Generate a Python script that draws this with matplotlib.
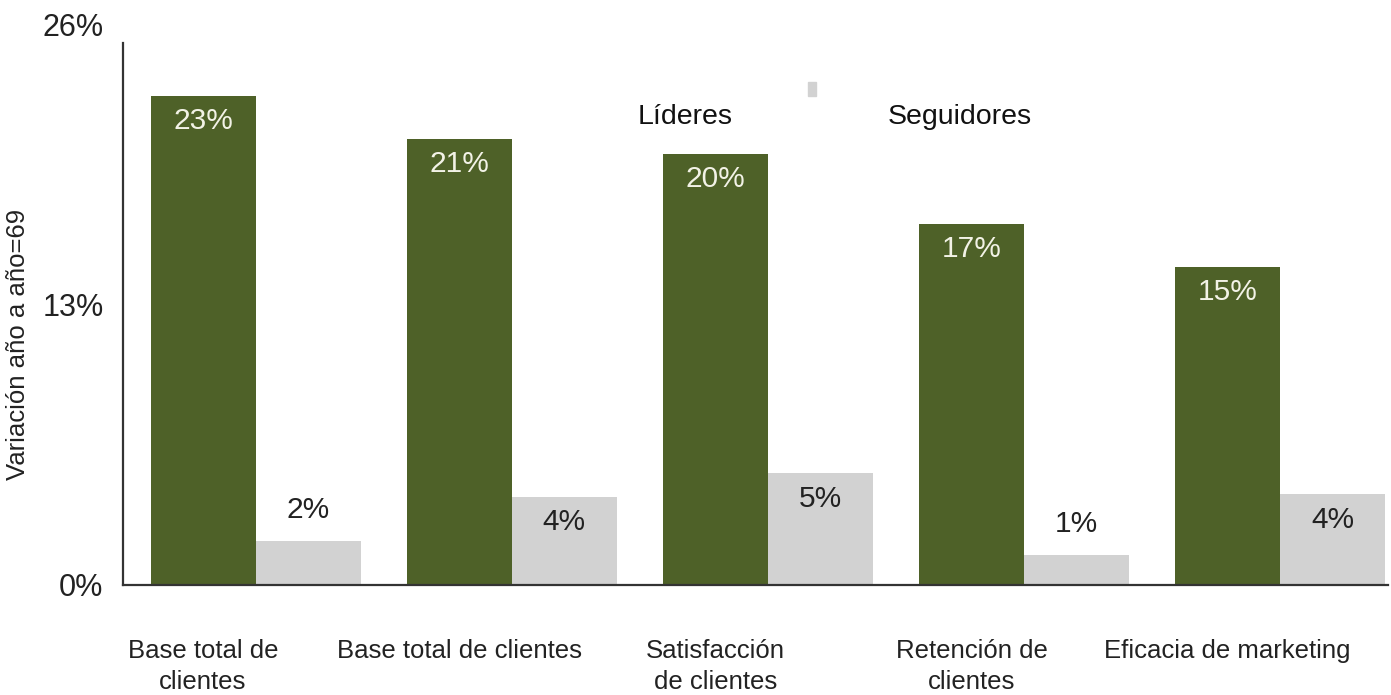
import matplotlib
matplotlib.use("Agg")
import matplotlib.pyplot as plt
import numpy as np

categories = ["Base total de\nclientes", "Base total de clientes", "Satisfacción\nde clientes",
              "Retención de\nclientes", "Eficacia de marketing"]
lideres = [22.7, 20.7, 20.0, 16.75, 14.75]
seguidores = [2.05, 4.1, 5.2, 1.4, 4.2]
lideres_txt = ["23%", "21%", "20%", "17%", "15%"]
seguidores_txt = ["2%", "4%", "5%", "1%", "4%"]
yticks = [0, 13, 26]
ytick_labels = ["0%", "13%", "26%"]

GREEN = "#4e6128"
GRAY = "#d2d2d2"
TEXT = "#222222"
FONT = "Liberation Sans"

plt.rcParams["font.family"] = [FONT, "DejaVu Sans"]

fig = plt.figure(figsize=(13.91, 6.95), dpi=100)
ax = fig.add_axes([0.0884, 0.1583, 0.9093, 0.8123])

x = np.arange(len(categories))
w = 0.41
ax.bar(x - w / 2, lideres, width=w, color=GREEN, zorder=2)
ax.bar(x + w / 2, seguidores, width=w, color=GRAY, zorder=2)

for xi, v, t in zip(x, lideres, lideres_txt):
    ax.text(xi - w / 2, v - 1.15, t, ha="center", va="center", color="#f2f2e6", fontsize=21.5)
for xi, v, t in zip(x, seguidores, seguidores_txt):
    ty = v + 1.45 if v < 3 else v - 1.2
    ax.text(xi + w / 2, ty, t, ha="center", va="center", color=TEXT, fontsize=21.5)

ax.set_xlim(-0.5175, 4.42)
ax.set_ylim(0, 26.2)
ax.set_yticks(yticks)
ax.set_yticklabels(ytick_labels, fontsize=22, color=TEXT)
ax.set_xticks(x - w / 2)
ax.set_xticklabels(categories, fontsize=18.5, color=TEXT, linespacing=1.35)
ax.tick_params(axis="y", length=0, pad=14)
ax.tick_params(axis="x", length=0, pad=39)

for s in ["top", "right"]:
    ax.spines[s].set_visible(False)
ax.spines["left"].set_bounds(0, 25.15)
ax.spines["left"].set_color("#333333")
ax.spines["left"].set_linewidth(1.6)
ax.spines["bottom"].set_color("#333333")
ax.spines["bottom"].set_linewidth(1.6)
ax.spines["bottom"].set_zorder(3)

# legend as loose text, as in the original
fig.text(685 / 1391, 1 - 117 / 695, "Líderes", ha="center", va="center", fontsize=20.5, color="#111111")
fig.text(960 / 1391, 1 - 117 / 695, "Seguidores", ha="center", va="center", fontsize=20.5, color="#111111")
fig.patches.append(plt.Rectangle((808 / 1391, 1 - 96 / 695), 8 / 1391, 14 / 695,
                                 transform=fig.transFigure, color=GRAY))

fig.text(18 / 1391, 1 - 344 / 695, "Variación año a año=69", rotation=90,
         ha="center", va="center", fontsize=18.5, color=TEXT)

fig.savefig("out.png", dpi=100, facecolor="white")
